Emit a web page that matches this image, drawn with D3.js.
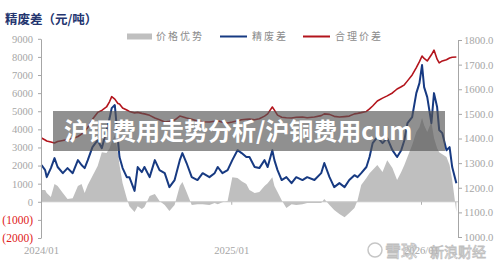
<!DOCTYPE html>
<html>
<head>
<meta charset="utf-8">
<script src="https://cdn.jsdelivr.net/npm/d3@7"></script>
<style>
  body { margin: 0; background: #fff; }
  svg { display: block; }
</style>
</head>
<body>
<div id="chart"></div>
<script>
// DATA
var dates = [
  "2024-01-02","2024-01-09","2024-01-12","2024-01-20","2024-01-27","2024-02-02","2024-02-12","2024-02-21",
  "2024-03-02","2024-03-12","2024-03-19","2024-03-25","2024-03-31","2024-04-09","2024-04-19","2024-04-27",
  "2024-05-06","2024-05-12","2024-05-16","2024-05-22","2024-05-28","2024-05-31","2024-06-06","2024-06-14",
  "2024-06-19","2024-06-29","2024-07-05","2024-07-13","2024-07-18","2024-07-28","2024-08-07","2024-08-16",
  "2024-08-26","2024-09-04","2024-09-14","2024-09-24","2024-09-29","2024-10-07","2024-10-17","2024-10-28",
  "2024-11-07","2024-11-20","2024-11-30","2024-12-06","2024-12-15","2024-12-25",
  "2025-01-03","2025-01-13","2025-01-21","2025-01-30","2025-02-05","2025-02-15","2025-02-24","2025-03-06",
  "2025-03-12","2025-03-21","2025-03-25","2025-03-31","2025-04-08","2025-04-17","2025-04-27","2025-05-06",
  "2025-05-18","2025-05-27","2025-06-10","2025-06-23","2025-06-29","2025-07-09","2025-07-18","2025-07-28",
  "2025-08-07","2025-08-16","2025-08-26","2025-09-01","2025-09-08","2025-09-18","2025-09-24","2025-09-30",
  "2025-10-09","2025-10-19","2025-10-28","2025-11-07","2025-11-16","2025-11-24","2025-11-30","2025-12-06",
  "2025-12-15","2025-12-23","2025-12-29",
  "2026-01-03","2026-01-07","2026-01-13","2026-01-21","2026-01-26","2026-02-01","2026-02-05","2026-02-11",
  "2026-02-19","2026-02-25","2026-03-02","2026-03-10"
];

// 价格优势 (left axis, area)
var advantage = [
  650,650,480,260,980,870,480,150,200,870,980,480,920,1420,1970,2740,
  2690,2960,3300,3680,2690,2030,1030,200,-240,-570,-240,-400,-290,320,430,40,
  -180,-510,-180,870,1090,540,-180,-130,-130,-180,-70,-130,-20,40,
  1360,1310,1140,980,650,480,540,870,1030,1360,870,540,90,-350,-130,-180,
  -130,-70,-70,-70,150,-180,-460,-680,-850,-620,-350,90,920,1310,1580,1750,
  2030,1640,2300,1860,1200,1640,2030,2470,3130,3850,4120,
  4620,4230,3850,4400,3520,2960,2740,2630,2470,2030,1200,-570
];

// 精废差 (left axis, blue)
var spread = [
  2030,1750,1360,1860,2410,1920,1580,1860,1580,2300,2030,1860,2300,3020,3400,2960,
  3950,4620,5170,5340,3400,2470,1860,1360,1360,600,1920,1640,1920,1360,2300,1750,
  1580,810,1200,2300,2690,2140,1360,1200,1580,1360,1580,1920,1580,1750,
  2300,2850,2690,2470,2470,1920,1860,2300,1920,2850,2300,1750,1200,1360,1030,1360,
  1200,1360,1200,1580,2140,1360,810,1030,810,1200,1470,1360,1580,1920,2470,3240,
  3570,3240,3520,2850,2470,2850,3400,4340,4680,6000,6550,
  7550,6330,5780,4340,6000,5230,3960,3790,2850,3020,1920,1030
];

// 合理价差 (right axis, red)
var fair = [
  1402,1394,1390,1386,1382,1388,1392,1396,1400,1408,1418,1430,1445,1478,1506,1514,
  1528,1550,1570,1560,1542,1540,1524,1516,1510,1504,1506,1502,1500,1494,1483,1476,
  1467,1470,1475,1491,1488,1483,1478,1471,1468,1467,1470,1472,1466,1463,
  1467,1472,1476,1478,1479,1476,1480,1491,1500,1528,1515,1495,1486,1484,1483,1486,
  1487,1484,1487,1493,1500,1498,1490,1487,1489,1491,1500,1502,1505,1510,1520,1532,
  1552,1564,1573,1585,1601,1610,1618,1634,1658,1688,1712,
  1735,1725,1715,1740,1759,1722,1707,1715,1720,1727,1730,1731
];

var leftTicks = [-2000,-1000,0,1000,2000,3000,4000,5000,6000,7000,8000,9000];
var rightTicks = [1000,1100,1200,1300,1400,1500,1600,1700,1800];
var xTicks = ["2024-01-01","2025-01-01","2026-01-01"];

var legendItems = [
  {name: "价格优势", type: "area", color: "#bfbfbf"},
  {name: "精废差", type: "line", color: "#173a82"},
  {name: "合理价差", type: "line", color: "#b3141c"}
];

var parse = d3.timeParse("%Y-%m-%d");
var rows = dates.map(function(d, i) {
  return {date: parse(d), adv: advantage[i], spread: spread[i], fair: fair[i]};
});

var width = 500, height = 264;
var svg = d3.select("#chart").append("svg")
    .attr("width", width)
    .attr("height", height);

var x = d3.scaleTime()
    .domain([parse("2024-01-01"), parse("2026-01-01")])
    .range([41, 421]);
var yL = d3.scaleLinear().domain([-2000, 9000]).range([238, 38.8]);
var yR = d3.scaleLinear().domain([1000, 1800]).range([237, 40]);

// area
var area = d3.area()
    .x(function(d) { return x(d.date); })
    .y0(yL(0))
    .y1(function(d) { return yL(d.adv); });
svg.append("path")
    .datum(rows)
    .attr("d", area)
    .attr("fill", "#bfbfbf");

// zero line
svg.append("line")
    .attr("x1", 41).attr("x2", 458)
    .attr("y1", yL(0)).attr("y2", yL(0))
    .attr("stroke", "#c8c8c8")
    .attr("stroke-width", 1);

var xAxis = svg.append("g")
    .attr("transform", "translate(0," + yL(0) + ")")
    .call(d3.axisBottom(x)
      .tickValues(xTicks.map(parse))
      .tickSize(3)
      .tickPadding(42)
      .tickFormat(d3.timeFormat("%Y/%m")));
xAxis.select(".domain").remove();
xAxis.selectAll("line").attr("stroke", "#b0b0b0");
xAxis.selectAll("text")
    .attr("fill", "#a6a6a6")
    .style("font-family", "'Liberation Serif', serif")
    .style("font-size", "10.7px");

// lines
var spreadLine = d3.line()
    .x(function(d) { return x(d.date); })
    .y(function(d) { return yL(d.spread); });
var fairLine = d3.line()
    .x(function(d) { return x(d.date); })
    .y(function(d) { return yR(d.fair); });

svg.append("path")
    .datum(rows)
    .attr("d", spreadLine)
    .attr("fill", "none")
    .attr("stroke", "#173a82")
    .attr("stroke-width", 2)
    .attr("stroke-linejoin", "round");

svg.append("path")
    .datum(rows)
    .attr("d", fairLine)
    .attr("fill", "none")
    .attr("stroke", "#b3141c")
    .attr("stroke-width", 1.6)
    .attr("stroke-linejoin", "round");

// left axis
var leftAxis = svg.append("g")
    .attr("transform", "translate(41,0)")
    .call(d3.axisLeft(yL)
      .tickValues(leftTicks)
      .tickSize(3)
      .tickSizeOuter(0)
      .tickPadding(5)
      .tickFormat(function(d) { return d < 0 ? "(" + (-d) + ")" : d; }));
leftAxis.select(".domain").attr("stroke", "#a6a6a6");
leftAxis.selectAll("line").attr("stroke", "#a6a6a6");
leftAxis.selectAll("text")
    .attr("fill", function(d) { return d < 0 ? "#e02020" : "#a6a6a6"; })
    .style("font-family", "'Liberation Serif', serif")
    .style("font-size", function(d) { return d < 0 ? "11.5px" : "10.5px"; });

// right axis
var rightAxis = svg.append("g")
    .attr("transform", "translate(458,0)")
    .call(d3.axisRight(yR)
      .tickValues(rightTicks)
      .tickSize(4)
      .tickSizeOuter(0)
      .tickPadding(2)
      .tickFormat(d3.format(".1f")));
rightAxis.select(".domain").attr("stroke", "#a6a6a6");
rightAxis.selectAll("line").attr("stroke", "#a6a6a6");
rightAxis.selectAll("text")
    .attr("fill", "#a6a6a6")
    .style("font-family", "'Liberation Serif', serif")
    .style("font-size", "10.7px");

// title
svg.append("text")
    .attr("x", 5).attr("y", 24)
    .attr("fill", "#24356f")
    .style("font-family", "'Noto Sans CJK SC', sans-serif")
    .style("font-weight", "bold")
    .style("font-size", "12.5px")
    .text("精废差（元/吨）");

// legend
var legX = [127, 220, 303];
var legend = svg.selectAll(".legend")
    .data(legendItems)
    .enter().append("g")
    .attr("class", "legend")
    .attr("transform", function(d, i) { return "translate(" + legX[i] + ",36.5)"; });
legend.each(function(d) {
  var g = d3.select(this);
  if (d.type == "area") {
    g.append("rect").attr("x", 0).attr("y", -3).attr("width", 25).attr("height", 6).attr("fill", d.color);
  } else {
    g.append("line").attr("x1", 0).attr("x2", 27).attr("y1", 0).attr("y2", 0)
      .attr("stroke", d.color).attr("stroke-width", 2);
  }
});
legend.append("text")
    .attr("x", function(d) { return d.type == "area" ? 29 : 32; })
    .attr("y", 3.5)
    .attr("fill", "#8c8c8c")
    .style("font-family", "'Noto Sans CJK SC', sans-serif")
    .style("font-size", "10px")
    .style("letter-spacing", "2px")
    .text(function(d) { return d.name; });

// overlay banner
svg.append("rect")
    .attr("x", 53).attr("y", 111)
    .attr("width", 392).attr("height", 40)
    .attr("fill", "#555")
    .attr("opacity", 0.65);
svg.append("text")
    .attr("x", 64).attr("y", 140)
    .attr("fill", "#fff")
    .style("font-family", "'Noto Sans CJK SC', sans-serif")
    .style("font-weight", "bold")
    .style("font-size", "24px")
    .text("沪铜费用走势分析/沪铜费用cum");

// watermark
var wm = svg.append("g").attr("opacity", 0.85);
wm.append("circle")
    .attr("cx", 375).attr("cy", 250).attr("r", 7)
    .attr("fill", "#fff").attr("stroke", "#bdbdbd").attr("stroke-width", 1.5);
wm.append("text")
    .attr("x", 385).attr("y", 257)
    .attr("fill", "#fff").attr("stroke", "#b5b5b5").attr("stroke-width", 0.8)
    .style("font-family", "'Noto Sans CJK SC', sans-serif")
    .style("font-size", "16px")
    .text("雪球");
wm.append("text")
    .attr("x", 430).attr("y", 257)
    .attr("fill", "#fff").attr("stroke", "#b5b5b5").attr("stroke-width", 0.8)
    .style("font-family", "'Noto Sans CJK SC', sans-serif")
    .style("font-size", "14px")
    .text("新浪财经");
</script>
</body>
</html>
